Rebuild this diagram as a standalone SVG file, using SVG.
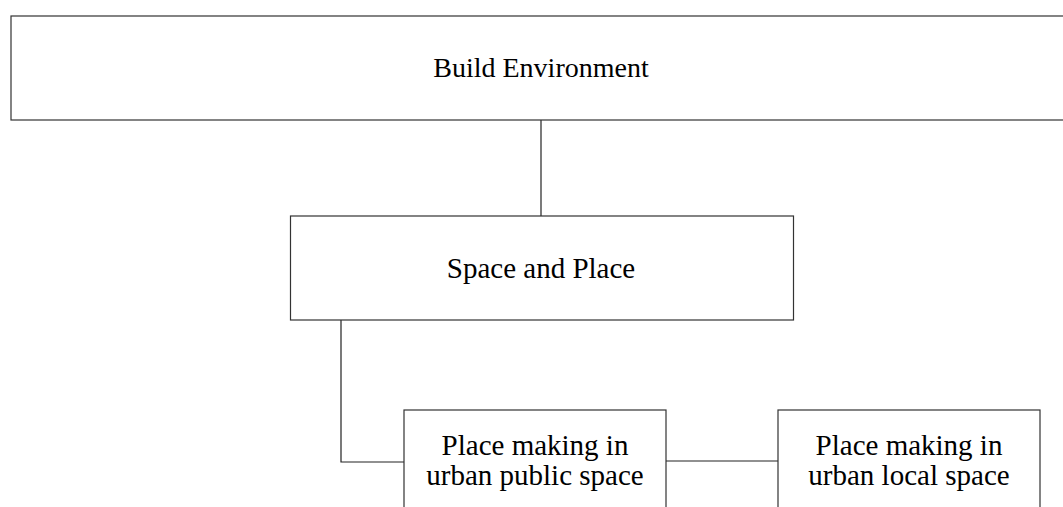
<svg xmlns="http://www.w3.org/2000/svg" width="1063" height="507" viewBox="0 0 1063 507">
<style>
.box{fill:#fff;stroke:#333;stroke-width:1.2}
.lbl{font-family:"Liberation Serif","Times New Roman",serif;font-size:29px;fill:#000;text-anchor:middle}
.conn{fill:none;stroke:#222;stroke-width:1.2}
</style>
<rect width="1063" height="507" fill="#fff"/>
<g id="connectors">
<path class="conn" d="M541,120 V216"/>
<path class="conn" d="M341,320 V462 H404"/>
<path class="conn" d="M666,461 H778"/>
</g>
<g id="build-environment">
<rect class="box" x="11" y="16" width="1070" height="104"/>
<text class="lbl" x="541" y="77" style="font-size:28px">Build Environment</text>
</g>
<g id="space-and-place">
<rect class="box" x="290.5" y="216" width="503" height="104"/>
<text class="lbl" x="541" y="278">Space and Place</text>
</g>
<g id="public-space">
<rect class="box" x="404" y="410" width="262" height="110"/>
<text class="lbl" x="535" y="455">Place making in</text>
<text class="lbl" x="535" y="485">urban public space</text>
</g>
<g id="local-space">
<rect class="box" x="778" y="410" width="262" height="110"/>
<text class="lbl" x="909" y="455">Place making in</text>
<text class="lbl" x="909" y="485">urban local space</text>
</g>
</svg>
